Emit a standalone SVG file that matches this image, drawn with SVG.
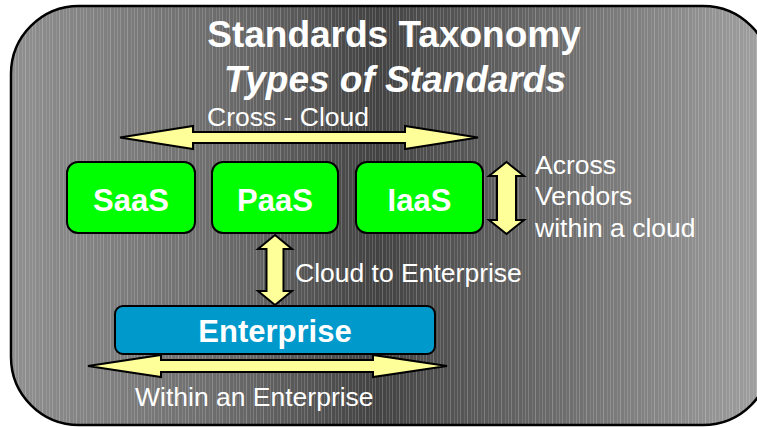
<svg xmlns="http://www.w3.org/2000/svg" width="757" height="427" viewBox="0 0 757 427">
  <defs>
    <!-- grey backdrop: light at the edges, dark in the middle -->
    <linearGradient id="bgGrad" x1="0" y1="0" x2="1" y2="0">
      <stop offset="0" stop-color="#909090"/>
      <stop offset="0.3" stop-color="#686868"/>
      <stop offset="0.48" stop-color="#424242"/>
      <stop offset="0.7" stop-color="#686868"/>
      <stop offset="1" stop-color="#a2a2a2"/>
    </linearGradient>
    <!-- fine vertical pinstripes -->
    <pattern id="stripes" x="0" y="0" width="17" height="10" patternUnits="userSpaceOnUse">
      <rect x="1" y="0" width="1" height="10" fill="#ffffff" opacity="0.18"/>
      <rect x="5" y="0" width="1" height="10" fill="#ffffff" opacity="0.10"/>
      <rect x="8" y="0" width="1" height="10" fill="#ffffff" opacity="0.22"/>
      <rect x="12" y="0" width="1" height="10" fill="#ffffff" opacity="0.12"/>
      <rect x="15" y="0" width="1" height="10" fill="#ffffff" opacity="0.16"/>
    </pattern>
  </defs>
  <style>
    .title { font-family: "Liberation Sans", Arial, sans-serif; font-weight: bold; font-size: 37px; fill: #ffffff; text-anchor: middle; }
    .label { font-family: "Liberation Sans", Arial, sans-serif; font-size: 26.5px; fill: #ffffff; }
    .boxText { font-family: "Liberation Sans", Arial, sans-serif; font-weight: bold; font-size: 31px; fill: #ffffff; text-anchor: middle; }
    .cloudBox { fill: #00ff00; stroke: #000000; stroke-width: 2; }
    .entBox { fill: #0099cc; stroke: #000000; stroke-width: 2; }
    .arrow { fill: #ffff99; stroke: #000000; stroke-width: 2; stroke-linejoin: miter; }
  </style>

  <!-- background panel -->
  <g id="panel">
    <rect x="11" y="6" width="760" height="419" rx="68" ry="68" fill="url(#bgGrad)"/>
    <rect x="11" y="6" width="760" height="419" rx="68" ry="68" fill="url(#stripes)"/>
    <rect x="11" y="6" width="760" height="419" rx="68" ry="68" fill="none" stroke="#000000" stroke-width="2.5"/>
  </g>

  <!-- headings -->
  <g id="heading">
    <text class="title" x="394" y="47">Standards Taxonomy</text>
    <text class="title" x="395" y="92" font-style="italic">Types of Standards</text>
  </g>

  <!-- connectors: double-headed block arrows -->
  <g id="connectors">
    <path class="arrow" d="M120,137.5 L193,126 L193,132 L405,132 L405,126 L478,137.5 L405,149 L405,143 L193,143 L193,149 Z"/>
    <path class="arrow" d="M506.5,162 L524,176 L516,176 L516,220 L524,220 L506.5,234 L489,220 L497,220 L497,176 L489,176 Z"/>
    <path class="arrow" d="M275,235 L292,249 L283.5,249 L283.5,291 L292,291 L275,305 L258,291 L266.5,291 L266.5,249 L258,249 Z"/>
    <path class="arrow" d="M88,366 L161,355 L161,360 L373,360 L373,355 L447,366 L373,377 L373,372 L161,372 L161,377 Z"/>
  </g>

  <!-- connector labels -->
  <g id="labels">
    <text class="label" x="207" y="126">Cross - Cloud</text>
    <text class="label" x="535" y="174">Across</text>
    <text class="label" x="535" y="205">Vendors</text>
    <text class="label" x="535" y="237">within a cloud</text>
    <text class="label" x="295" y="282">Cloud to Enterprise</text>
    <text class="label" x="135" y="406">Within an Enterprise</text>
  </g>

  <!-- nodes -->
  <g id="saas">
    <rect class="cloudBox" x="67" y="162" width="128" height="71" rx="11"/>
    <text class="boxText" x="131" y="211">SaaS</text>
  </g>
  <g id="paas">
    <rect class="cloudBox" x="212" y="162" width="126" height="71" rx="11"/>
    <text class="boxText" x="275" y="211">PaaS</text>
  </g>
  <g id="iaas">
    <rect class="cloudBox" x="356" y="162" width="127" height="71" rx="11"/>
    <text class="boxText" x="419.5" y="211">IaaS</text>
  </g>
  <g id="enterprise">
    <rect class="entBox" x="115" y="306" width="320" height="48" rx="8"/>
    <text class="boxText" x="275" y="342">Enterprise</text>
  </g>
</svg>
